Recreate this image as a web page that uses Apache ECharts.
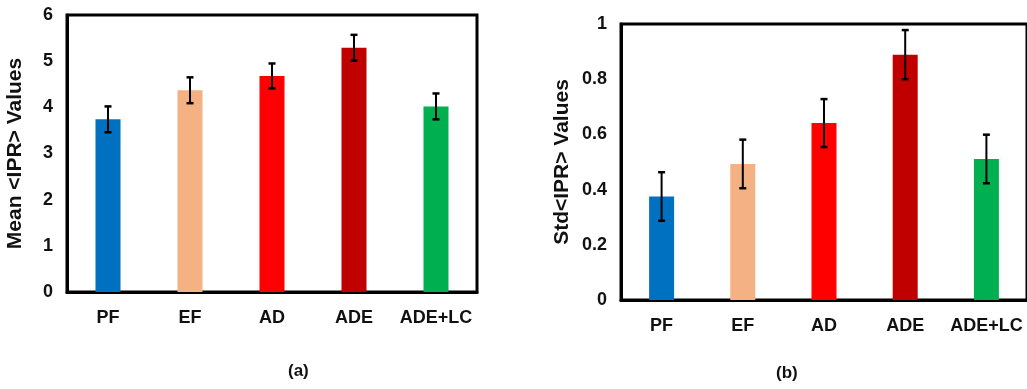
<!DOCTYPE html>
<html>
<head>
<meta charset="utf-8">
<script src="https://cdn.jsdelivr.net/npm/echarts@6/dist/echarts.min.js"></script>
<style>
html, body { margin: 0; padding: 0; background: #fff; }
#main { width: 1027px; height: 389px; }
</style>
</head>
<body>
<div id="main"></div>
<script>
var categories = ['PF', 'EF', 'AD', 'ADE', 'ADE+LC'];
var meanIPR = [3.74, 4.37, 4.68, 5.29, 4.02];
var meanErr = [0.28, 0.28, 0.27, 0.28, 0.28];
var stdIPR = [0.375, 0.493, 0.641, 0.889, 0.511];
var stdErr = [0.088, 0.088, 0.087, 0.089, 0.088];
var barColors = ['#0070C0', '#F4B183', '#FF0000', '#C00000', '#00B050'];

var font = 'Liberation Sans, Arial, sans-serif';
var myChart = echarts.init(document.getElementById('main'));

function barData(vals) {
	return vals.map(function (v, i) {
		return { value: v, itemStyle: { color: barColors[i] } };
	});
}

function errData(vals, errs) {
	return vals.map(function (v, i) {
		return [i, v - errs[i], v + errs[i]];
	});
}

function renderErr(params, api) {
	var lo = api.coord([api.value(0), api.value(1)]);
	var hi = api.coord([api.value(0), api.value(2)]);
	var w = 3.5;
	return {
		type: 'group',
		children: [
			{ type: 'line', shape: { x1: lo[0], y1: lo[1], x2: hi[0], y2: hi[1] }, style: { stroke: '#000', lineWidth: 2 } },
			{ type: 'line', shape: { x1: hi[0] - w, y1: hi[1], x2: hi[0] + w, y2: hi[1] }, style: { stroke: '#000', lineWidth: 2.5 } },
			{ type: 'line', shape: { x1: lo[0] - w, y1: lo[1], x2: lo[0] + w, y2: lo[1] }, style: { stroke: '#000', lineWidth: 2.5 } }
		]
	};
}

function xAx(idx) {
	return {
		type: 'category',
		gridIndex: idx,
		data: categories,
		axisTick: { show: false },
		axisLine: { lineStyle: { color: '#000', width: 3 } },
		axisLabel: { interval: 0, color: '#111', fontFamily: font, fontWeight: 'bold', fontSize: 18, margin: 17 }
	};
}

function yAx(idx, max, interval, name, gap) {
	return {
		type: 'value',
		gridIndex: idx,
		min: 0,
		max: max,
		interval: interval,
		name: name,
		nameLocation: 'middle',
		nameGap: gap,
		nameTextStyle: { color: '#111', fontFamily: font, fontWeight: 'bold', fontSize: 21 },
		splitLine: { show: false },
		axisTick: { show: false },
		axisLine: { show: true, lineStyle: { color: '#000', width: 3 } },
		axisLabel: { color: '#111', fontFamily: font, fontWeight: 'bold', fontSize: 18, margin: 14 }
	};
}

option = {
	animation: false,
	backgroundColor: '#fff',
	grid: [
		{ left: 67, top: 15, width: 410, height: 277, show: true, borderColor: '#000', borderWidth: 3 },
		{ left: 621, top: 24, width: 410, height: 276, show: true, borderColor: '#000', borderWidth: 3 }
	],
	xAxis: [xAx(0), xAx(1)],
	yAxis: [
		yAx(0, 6, 1, 'Mean <IPR> Values', 41),
		yAx(1, 1, 0.2, 'Std<IPR> Values', 48)
	],
	graphic: [
		{ type: 'text', left: 288, top: 363, style: { text: '(a)', font: 'bold 17px ' + font, fill: '#111' } },
		{ type: 'text', left: 776, top: 365, style: { text: '(b)', font: 'bold 17px ' + font, fill: '#111' } }
	],
	series: [
		{
			type: 'bar', xAxisIndex: 0, yAxisIndex: 0, barWidth: 25,
			data: barData(meanIPR)
		},
		{
			type: 'custom', xAxisIndex: 0, yAxisIndex: 0, z: 5,
			renderItem: renderErr,
			data: errData(meanIPR, meanErr)
		},
		{
			type: 'bar', xAxisIndex: 1, yAxisIndex: 1, barWidth: 25,
			data: barData(stdIPR)
		},
		{
			type: 'custom', xAxisIndex: 1, yAxisIndex: 1, z: 5,
			renderItem: renderErr,
			data: errData(stdIPR, stdErr)
		}
	]
};

myChart.setOption(option);
window.onresize = myChart.resize;
</script>
</body>
</html>
